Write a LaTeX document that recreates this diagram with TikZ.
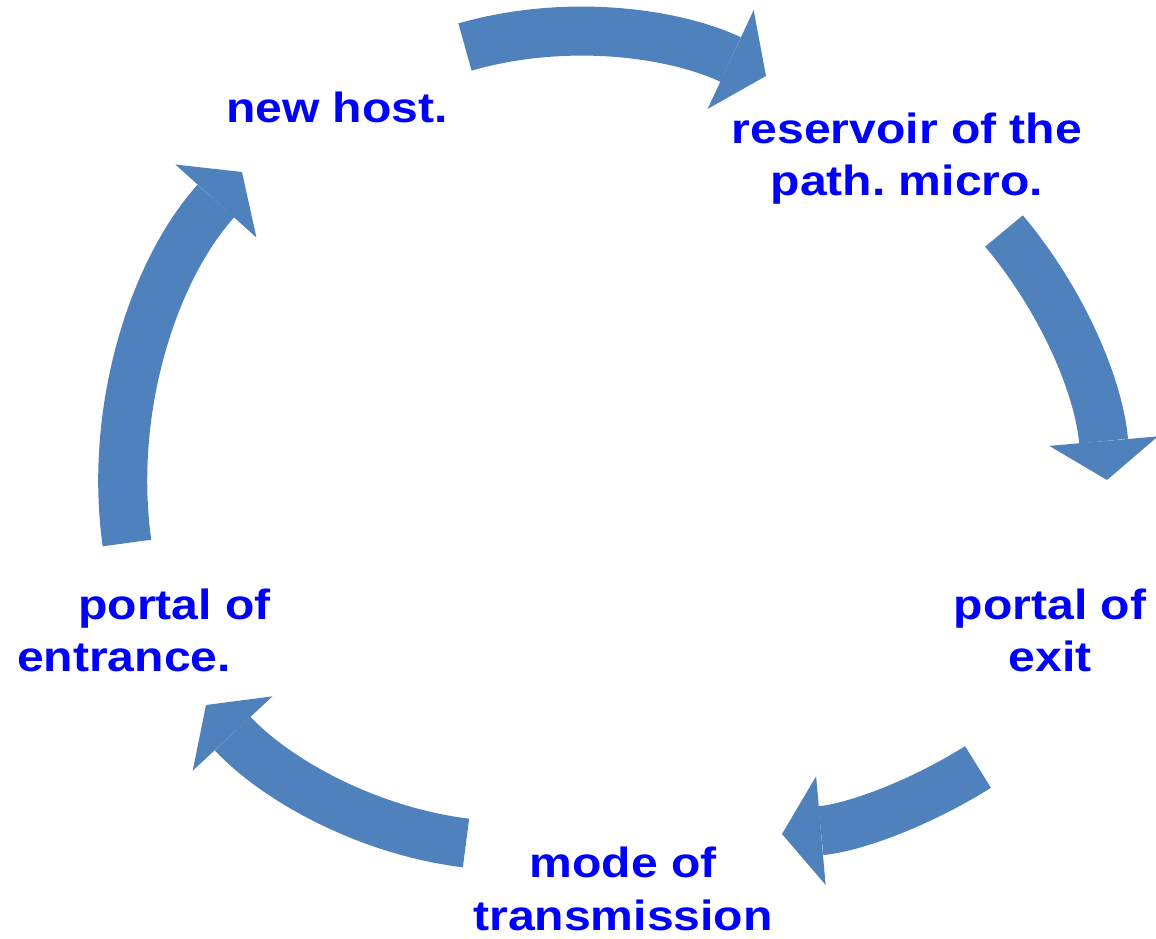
\documentclass[tikz,border=0pt]{standalone}
\usepackage{fontspec}
\setmainfont{Liberation Sans}[FakeStretch=1.14]
\usepackage{xcolor}
\usetikzlibrary{arrows.meta}
\frenchspacing
\definecolor{cycblue}{HTML}{4F81BD}
\definecolor{lblblue}{HTML}{0000FF}
\tikzset{
  stage/.style = {inner sep=0pt, align=center, anchor=base, text=lblblue,
                  font=\fontsize{12}{14.9}\selectfont\bfseries},
  cyc/.style   = {draw=cycblue, line width=0.49cm, looseness=0.88,
                  -{Triangle[width=1.09cm, length=0.39cm, line width=0pt]}},
}

\begin{document}
\begin{tikzpicture}[x=0.01cm, y=0.01cm]
  \useasboundingbox (0,0) rectangle (1156,-939);
  \node[stage] (host)  at (337,-122.7)  {new host.};
  \node[stage] (res)   at (907,-195.5)  {reservoir of the\\path. micro.};
  \node[stage] (exit)  at (1050,-671.7) {portal of\\exit};
  \node[stage] (mode)  at (623,-930)    {mode of\\transmission};
  \node[stage] (entr)  at (124,-671.7)  {\hspace*{1.01cm}portal of\\entrance.};
  \coordinate (t1) at (465,-47);  \coordinate (h1) at (766,-76);
  \coordinate (t2) at (1004,-231); \coordinate (h2) at (1107,-480);
  \coordinate (t3) at (978,-767);  \coordinate (h3) at (782,-834);
  \coordinate (t4) at (466,-843);  \coordinate (h4) at (206,-705);
  \coordinate (t5) at (127,-543);  \coordinate (h5) at (242,-172);
  \draw[cyc] (t1) to[out=16,  in=155] (h1);
  \draw[cyc] (t2) to[out=-50, in=95]  (h2);
  \draw[cyc] (t3) to[out=212, in=5]   (h3);
  \draw[cyc] (t4) to[out=173, in=-47] (h4);
  \draw[cyc] (t5) to[out=98,  in=228] (h5);
\end{tikzpicture}
\end{document}
